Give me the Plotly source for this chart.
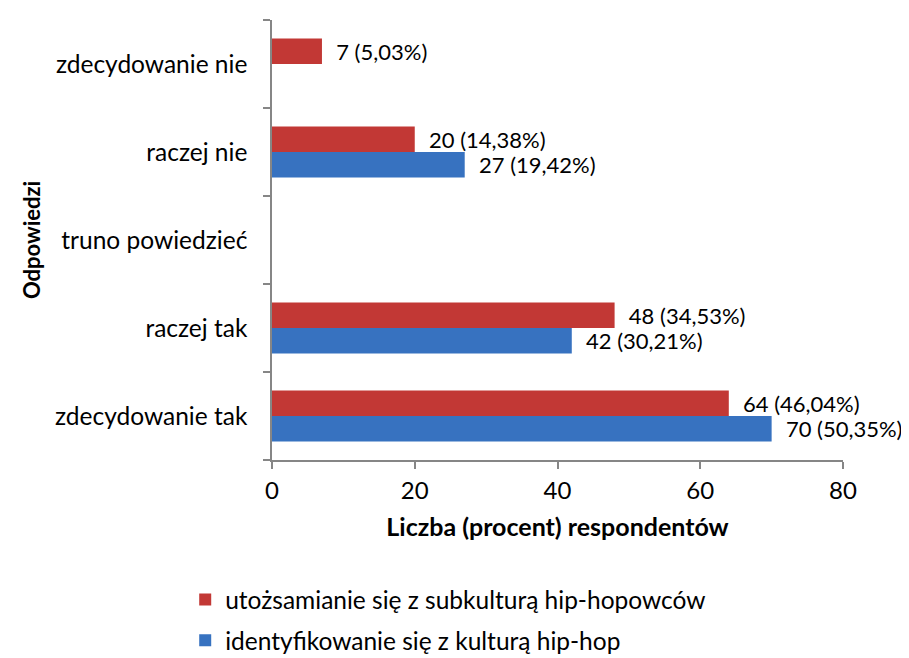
import plotly.graph_objects as go

categories = ["zdecydowanie tak", "raczej tak", "truno powiedzieć", "raczej nie", "zdecydowanie nie"]
red_name = "utożsamianie się z subkulturą hip-hopowców"
blue_name = "identyfikowanie się z kulturą hip-hop"
red_values = [64, 48, 0, 20, 7]
red_labels = ["64 (46,04%)", "48 (34,53%)", "", "20 (14,38%)", "7 (5,03%)"]
blue_values = [70, 42, 0, 27, 0]
blue_labels = ["70 (50,35%)", "42 (30,21%)", "", "27 (19,42%)", ""]
x_title = "Liczba (procent) respondentów"
y_title = "Odpowiedzi"

FONT = "Lato"
PAD = "\u00a0" * 2


def padded(labels):
    return [PAD + t if t else "" for t in labels]


fig = go.Figure()
fig.add_trace(go.Bar(
    y=categories, x=blue_values, orientation="h", name=blue_name,
    text=padded(blue_labels), textposition="outside", cliponaxis=False,
    constraintext="none",
    textfont=dict(size=22, color="black", family=FONT),
    marker=dict(color="#3772C0", line=dict(width=0)),
    legendgroup="b", legendrank=2,
))
fig.add_trace(go.Bar(
    y=categories, x=red_values, orientation="h", name=red_name,
    text=padded(red_labels), textposition="outside", cliponaxis=False,
    constraintext="none",
    textfont=dict(size=22, color="black", family=FONT),
    marker=dict(color="#C23835", line=dict(width=0)),
    legendgroup="r", legendrank=1,
))

fig.update_layout(
    width=909, height=658,
    margin=dict(l=264, r=74, t=12, b=206, autoexpand=False),
    barmode="group", bargap=0.42, bargroupgap=0,
    plot_bgcolor="white", paper_bgcolor="white",
    font=dict(family=FONT, size=24, color="black"),
    showlegend=True,
    legend=dict(orientation="v", x=-0.152, y=-0.266, xanchor="left", yanchor="top",
                traceorder="grouped", tracegroupgap=6,
                font=dict(size=24.5, family=FONT, color="black")),
    annotations=[dict(
        text="<b>" + y_title + "</b>", xref="paper", yref="paper",
        x=-0.422, y=0.5, xanchor="center", yanchor="middle", textangle=-90,
        showarrow=False, font=dict(size=22, family=FONT, color="black"),
    )],
)
fig.update_xaxes(
    range=[0, 80], tickvals=[0, 20, 40, 60, 80], showgrid=False, zeroline=False,
    showline=True, linecolor="#868686", linewidth=1.5,
    ticks="outside", ticklen=7, tickcolor="#868686", tickwidth=1.5,
    tickfont=dict(size=24, family=FONT), ticklabelstandoff=1,
    title=dict(text="<b>" + x_title + "</b>", font=dict(size=25, family=FONT), standoff=16),
)
fig.update_yaxes(
    categoryorder="array", categoryarray=categories, showgrid=False,
    showline=True, linecolor="#868686", linewidth=1.5,
    ticks="outside", ticklen=7, tickcolor="#868686", tickwidth=1.5, tickson="boundaries",
    tickfont=dict(size=24.5, family=FONT), ticklabelstandoff=18,
)
fig.write_html("out.html")
